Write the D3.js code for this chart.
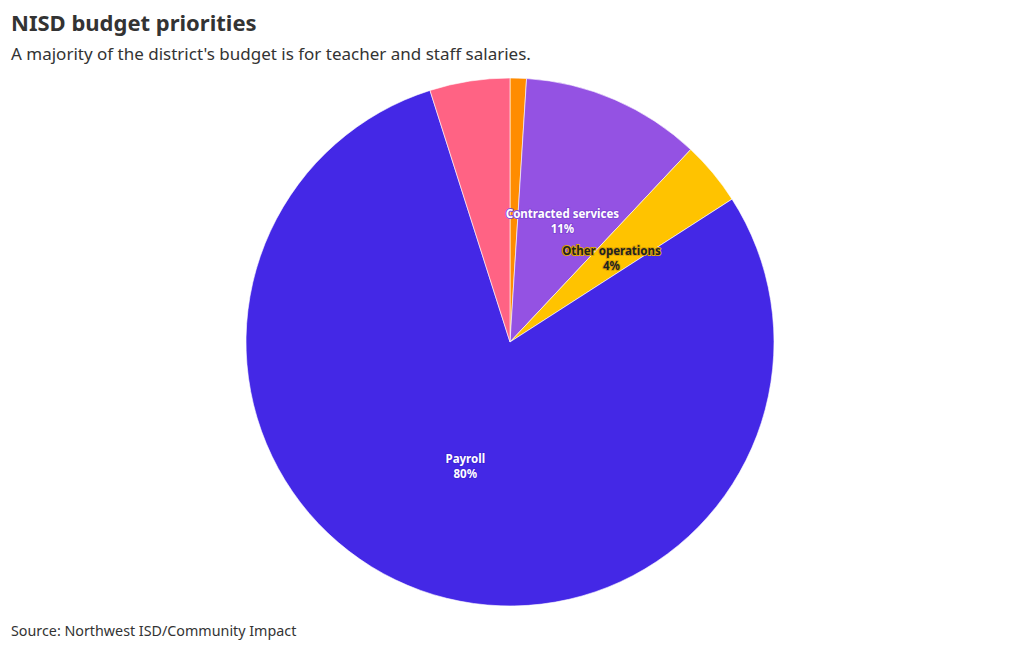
<!DOCTYPE html>
<html><head><meta charset="utf-8">
<script src="https://cdn.jsdelivr.net/npm/d3@7"></script>
<style>
body{margin:0;background:#fff;font-family:"Noto Sans",sans-serif;}
</style></head>
<body><svg id="c" width="1020" height="650"></svg>
<script>
const categories = ["Supplies", "Contracted services", "Other operations", "Payroll", "Capital outlay"];
const values = [1.0, 11.0, 3.9, 79.2, 4.9];
const labels = ["", "11%", "4%", "80%", ""];
const showLabel = [false, true, true, true, false];
const colors = ["#ff8c00", "#9452e3", "#ffc300", "#4428e6", "#ff6384"];
const textFill = ["#fff", "#fff", "#222", "#fff", "#fff"];
const haloColor = ["#c96e00", "#8348d6", "#e0a500", "#3d22d8", "#d94a6a"];

const svg = d3.select("#c");
svg.append("text").attr("x", 11).attr("y", 31).attr("font-size", 22).attr("font-weight", 700).attr("fill", "#333").text("NISD budget priorities");
svg.append("text").attr("x", 11).attr("y", 60).attr("font-size", 17).attr("fill", "#333").text("A majority of the district's budget is for teacher and staff salaries.");
svg.append("text").attr("x", 11).attr("y", 636).attr("font-size", 14.3).attr("fill", "#333").text("Source: Northwest ISD/Community Impact");

const cx = 510, cy = 342, r = 264;
const data = categories.map((c, i) => ({c, v: values[i], i}));
const pie = d3.pie().value(d => d.v).sort(null);
const arcs = pie(data);
const arc = d3.arc().innerRadius(0).outerRadius(r);
const labelArc = d3.arc().innerRadius(r/2).outerRadius(r/2);
const g = svg.append("g").attr("transform", `translate(${cx},${cy})`);
g.selectAll("path").data(arcs).join("path")
  .attr("d", arc).attr("fill", d => colors[d.data.i])
  .attr("stroke", "#fff").attr("stroke-width", 0.6);

const lg = g.selectAll("g.lab").data(arcs.filter(d => showLabel[d.data.i])).join("g")
  .attr("class", "lab")
  .attr("transform", d => `translate(${labelArc.centroid(d)})`);
lg.each(function(d) {
  const i = d.data.i;
  const t = d3.select(this).append("text").attr("text-anchor", "middle")
    .attr("font-size", 11.5).attr("font-weight", 700)
    .attr("fill", textFill[i]).attr("stroke", haloColor[i]).attr("stroke-width", 2)
    .attr("stroke-linejoin", "round").attr("paint-order", "stroke");
  t.append("tspan").attr("x", 0).attr("y", -3).text(d.data.c);
  t.append("tspan").attr("x", 0).attr("y", 12).text(labels[i]);
});
</script></body></html>
